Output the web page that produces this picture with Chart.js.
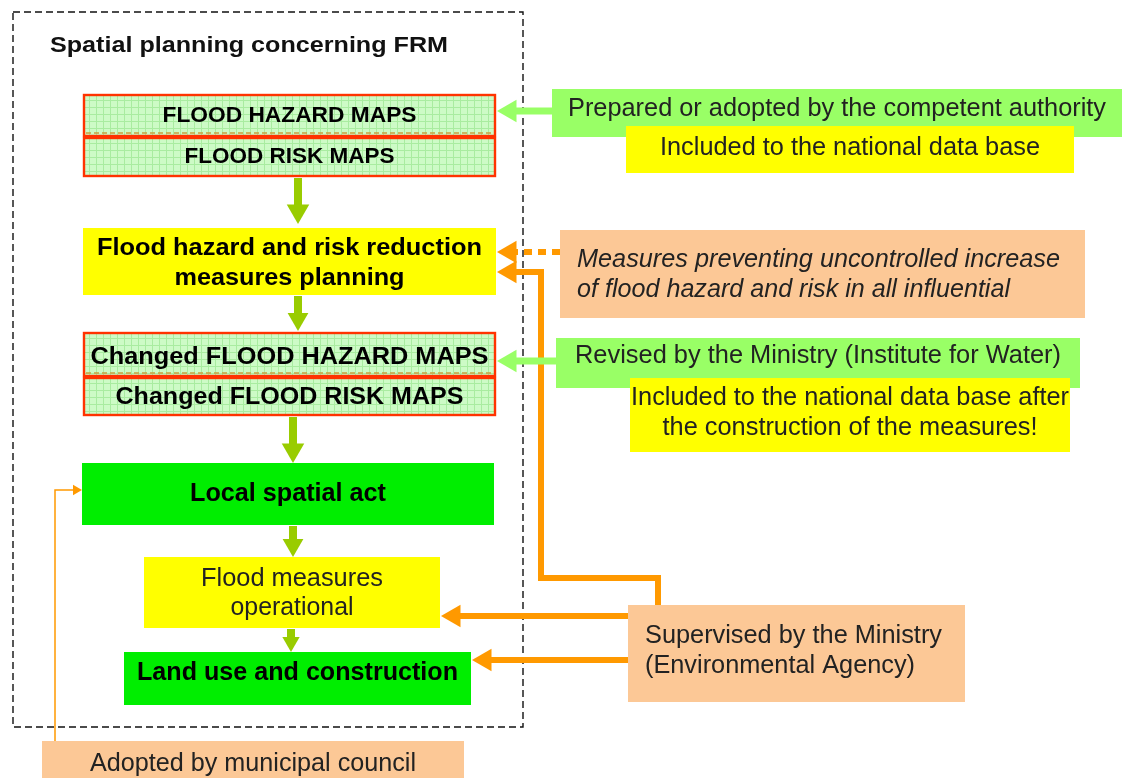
<!DOCTYPE html>
<html>
<head>
<meta charset="utf-8">
<script src="https://cdn.jsdelivr.net/npm/chart.js@4"></script>
<style>
html,body{margin:0;padding:0;background:#fff;}
#wrap{width:1122px;height:778px;}
</style>
</head>
<body>
<div id="wrap"><canvas id="flowChart"></canvas></div>
<script>
// box texts
const mainSteps = [
  ['FLOOD HAZARD MAPS'],
  ['FLOOD RISK MAPS'],
  ['Flood hazard and risk reduction', 'measures planning'],
  ['Changed FLOOD HAZARD MAPS'],
  ['Changed FLOOD RISK MAPS'],
  ['Local spatial act'],
  ['Flood measures', 'operational'],
  ['Land use and construction']
];
const sideNotes = [
  ['Prepared or adopted by the competent authority'],
  ['Included to the national data base'],
  ['Measures preventing uncontrolled increase', 'of flood hazard and risk in all influential'],
  ['Revised by the Ministry (Institute for Water)'],
  ['Included to the national data base after', 'the construction of the measures!'],
  ['Supervised by the Ministry', '(Environmental Agency)'],
  ['Adopted by municipal council']
];
const titleText = 'Spatial planning concerning FRM';

// layout (diagram units = pixels of the 1122x778 picture)
const mapFill = '#cdfbc6';
const boxes = [
  {t: mainSteps[0], r:[83,94,496,137], fill:'grid', stroke:'#ff3300', seam:true, w:'bold', fs:22, ty:[116], tw:[254]},
  {t: mainSteps[1], r:[83,137,496,177], fill:'grid', stroke:'#ff3300', w:'bold', fs:22, ty:[157], tw:[210]},
  {t: mainSteps[2], r:[83,228,496,295], fill:'#ffff00', w:'bold', fs:24, ty:[248,278], tw:[385,230]},
  {t: mainSteps[3], r:[83,332,496,377], fill:'grid', stroke:'#ff3300', seam:true, w:'bold', fs:24, ty:[357], tw:[398]},
  {t: mainSteps[4], r:[83,377,496,416], fill:'grid', stroke:'#ff3300', w:'bold', fs:24, ty:[397], tw:[348]},
  {t: mainSteps[5], r:[82,463,494,525], fill:'#00ee00', w:'bold', fs:26, ty:[494], tw:[196]},
  {t: mainSteps[6], r:[144,557,440,628], fill:'#ffff00', w:'normal', fs:25, ty:[579,608], tw:[182,123]},
  {t: mainSteps[7], r:[124,652,471,705], fill:'#00ee00', w:'bold', fs:26, ty:[673], tw:[321]},
  {t: sideNotes[0], r:[552,89,1122,137], fill:'#99ff66', w:'normal', fs:25, ty:[109], tw:[538]},
  {t: sideNotes[1], r:[626,126,1074,173], fill:'#ffff00', w:'normal', fs:25, ty:[148], tw:[380]},
  {t: sideNotes[2], r:[560,230,1085,318], fill:'#fcc896', w:'normal', st:'italic', fs:25, ty:[260,290], tw:[483,433], left:577},
  {t: sideNotes[3], r:[556,338,1080,388], fill:'#99ff66', w:'normal', fs:25, ty:[356], tw:[486]},
  {t: sideNotes[4], r:[630,378,1070,452], fill:'#ffff00', w:'normal', fs:25, ty:[398,428], tw:[438,375]},
  {t: sideNotes[5], r:[628,605,965,702], fill:'#fcc896', w:'normal', fs:25, ty:[636,666], tw:[297,270], left:645},
  {t: sideNotes[6], r:[42,741,464,790], fill:'#fcc896', w:'normal', fs:25, ty:[764], tw:[326]}
];

// connectors: path points, end is arrow tip
const green = '#99cc00', lightGreen = '#99ff66', orange = '#ff9900';
const connectors = [
  {pts:[[298,178],[298,224]], c:green, lw:8, hr:13},
  {pts:[[298,296],[298,331]], c:green, lw:8, hr:12},
  {pts:[[293,417],[293,463]], c:green, lw:8, hr:13},
  {pts:[[293,526],[293,557]], c:green, lw:8, hr:12},
  {pts:[[291,629],[291,652]], c:green, lw:8, hr:10},
  {pts:[[552,111],[497,111]], c:lightGreen, lw:7, hr:13},
  {pts:[[556,361],[497,361]], c:lightGreen, lw:7, hr:13},
  {pts:[[560,252],[497,252]], c:orange, lw:6, hr:13, dash:[8,6]},
  {pts:[[658,605],[658,578],[541,578],[541,272],[497,272]], c:orange, lw:6, hr:13},
  {pts:[[628,616],[441,616]], c:orange, lw:6, hr:13},
  {pts:[[628,660],[472,660]], c:orange, lw:6, hr:13},
  {pts:[[55,741],[55,490],[82,490]], c:orange, lw:1.5, hr:6}
];

function tipRotation(a, b){
  if (b[0] < a[0]) return -90;
  if (b[0] > a[0]) return 90;
  if (b[1] > a[1]) return 180;
  return 0;
}

const datasets = connectors.map(cn => {
  const n = cn.pts.length;
  const a = cn.pts[n-2], b = cn.pts[n-1];
  const rot = tipRotation(a, b);
  const dx = Math.sign(b[0]-a[0]), dy = Math.sign(b[1]-a[1]);
  const pts = cn.pts.map((p, i) => {
    if (i === n-1) return {x: p[0] - dx*cn.hr, y: p[1] - dy*cn.hr};
    return {x: p[0], y: p[1]};
  });
  return {
    data: pts,
    showLine: true,
    borderColor: cn.c,
    backgroundColor: cn.c,
    borderWidth: cn.lw,
    borderDash: cn.dash || [],
    tension: 0,
    pointStyle: 'triangle',
    pointRadius: pts.map((p, i) => i === n-1 ? cn.hr : 0),
    pointHoverRadius: pts.map((p, i) => i === n-1 ? cn.hr : 0),
    pointRotation: rot,
    pointBorderWidth: 0,
    pointBackgroundColor: cn.c,
    pointBorderColor: cn.c
  };
});

const FONT = '"Liberation Sans", Arial, sans-serif';

function fitText(ctx, text, x, y, width, size, weight, style, align){
  ctx.font = (style||'normal') + ' ' + weight + ' ' + size + 'px ' + FONT;
  const m = ctx.measureText(text).width;
  const sx = width / m;
  ctx.save();
  ctx.translate(x, y);
  ctx.scale(sx, 1);
  ctx.textAlign = align;
  ctx.textBaseline = 'middle';
  ctx.fillText(text, 0, 0);
  ctx.restore();
}

const diagramPlugin = {
  id: 'diagram',
  beforeDatasetsDraw(chart){
    const ctx = chart.ctx, xs = chart.scales.x, ys = chart.scales.y;
    const px = v => xs.getPixelForValue(v), py = v => ys.getPixelForValue(v);
    ctx.save();
    // dashed frame
    ctx.setLineDash([7,4]);
    ctx.strokeStyle = '#111';
    ctx.lineWidth = 1.4;
    ctx.strokeRect(px(13), py(12), px(523)-px(13), py(727)-py(12));
    ctx.setLineDash([]);
    boxes.forEach(b => {
      const x0 = px(b.r[0]), y0 = py(b.r[1]), x1 = px(b.r[2]), y1 = py(b.r[3]);
      if (b.fill === 'grid') {
        ctx.fillStyle = mapFill;
        ctx.fillRect(x0, y0, x1-x0, y1-y0);
        ctx.strokeStyle = '#a9eca0';
        ctx.lineWidth = 1;
        ctx.beginPath();
        for (let gx = x0 + 6.5; gx < x1; gx += 7) { ctx.moveTo(gx, y0); ctx.lineTo(gx, y1); }
        for (let gy = y0 + 6.5; gy < y1; gy += 7) { ctx.moveTo(x0, gy); ctx.lineTo(x1, gy); }
        ctx.stroke();
        if (b.seam) {
          ctx.strokeStyle = '#c8a040';
          ctx.setLineDash([5,3]);
          ctx.lineWidth = 1.5;
          ctx.beginPath();
          ctx.moveTo(x0 + 3, y1 - 4);
          ctx.lineTo(x1 - 3, y1 - 4);
          ctx.stroke();
          ctx.setLineDash([]);
        }
      } else {
        ctx.fillStyle = b.fill;
        ctx.fillRect(x0, y0, x1-x0, y1-y0);
      }
      if (b.stroke) {
        ctx.strokeStyle = b.stroke;
        ctx.lineWidth = 2.4;
        ctx.strokeRect(x0+1, y0+1, x1-x0-2, y1-y0-2);
      }
    });
    ctx.restore();
  },
  afterDatasetsDraw(chart){
    const ctx = chart.ctx, xs = chart.scales.x, ys = chart.scales.y;
    const px = v => xs.getPixelForValue(v), py = v => ys.getPixelForValue(v);
    ctx.save();
    ctx.fillStyle = '#111';
    fitText(ctx, titleText, px(50), py(46), 398, 22, 'bold', 'normal', 'left');
    boxes.forEach(b => {
      ctx.fillStyle = b.w === 'bold' ? '#000' : '#222';
      b.t.forEach((line, i) => {
        if (b.left !== undefined) {
          fitText(ctx, line, px(b.left), py(b.ty[i]), b.tw[i], b.fs, b.w, b.st, 'left');
        } else {
          fitText(ctx, line, px((b.r[0]+b.r[2])/2), py(b.ty[i]), b.tw[i], b.fs, b.w, b.st, 'center');
        }
      });
    });
    ctx.restore();
  }
};

new Chart(document.getElementById('flowChart'), {
  type: 'scatter',
  data: { datasets: datasets },
  options: {
    responsive: true,
    maintainAspectRatio: false,
    animation: false,
    layout: { padding: 0, autoPadding: false },
    plugins: { legend: {display:false}, tooltip: {enabled:false} },
    events: [],
    scales: {
      x: { type:'linear', min:0, max:1122, display:false },
      y: { type:'linear', min:0, max:778, reverse:true, display:false }
    }
  },
  plugins: [diagramPlugin]
});
</script>
</body>
</html>
